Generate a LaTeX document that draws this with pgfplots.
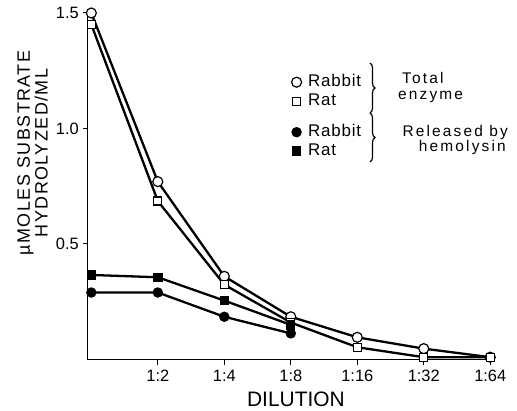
\documentclass[border=0pt]{standalone}
\usepackage{fontspec}
\setmainfont{Liberation Sans}
\newfontfamily\labfont[LetterSpace=8]{Liberation Sans}
\newfontfamily\legfont[LetterSpace=5]{Liberation Sans}
\newfontfamily\grpfont[LetterSpace=14]{Liberation Sans}
\usepackage{pgfplots}
\pgfplotsset{compat=1.18}
\usetikzlibrary{decorations.pathreplacing}

\pgfplotstableread{
x  rabtot rattot
0  1.50   1.45
1  0.77   0.686
2  0.36   0.324
3  0.185  0.16
4  0.096  0.053
5  0.047  0.01
6  0.01   0.01
}\totaldata
\pgfplotstableread{
x  rabrel ratrel
0  0.29   0.366
1  0.29   0.356
2  0.185  0.255
3  0.113  0.15
}\releaseddata

\begin{document}
\begin{tikzpicture}
\useasboundingbox (-88bp,-51.5bp) rectangle (429bp,359.5bp);
\begin{axis}[
  scale only axis, width=405.6bp, height=346.5bp,
  xmin=-0.05, xmax=6.05, ymin=0, ymax=1.5,
  axis lines*=left,
  axis line style={line width=1bp, black},
  tick align=outside, major tick length=5bp,
  tick style={line width=1bp, black},
  xtick={1,2,3,4,5,6}, xticklabels={1:2,1:4,1:8,1:16,1:32,1:64},
  ytick={0.5,1.0,1.5}, yticklabels={0.5,1.0,1.5},
  tick label style={font=\fontsize{16.5}{18}\selectfont},
  xticklabel style={anchor=north, inner sep=0pt, yshift=-5.5bp, font=\fontsize{16.5}{18}\selectfont},
  yticklabel style={anchor=east, inner sep=0pt, xshift=-4bp, font=\fontsize{16.5}{18}\selectfont},
  clip=false,
  xlabel={DILUTION},
  every axis x label/.style={at={(axis description cs:0.5127,0)}, anchor=base, yshift=-47.2bp, font=\fontsize{21}{24}\selectfont},
  ylabel={\textmu MOLES SUBSTRATE\\HYDROLYZED/ML},
  every axis y label/.style={at={(axis description cs:0,0.596)}, xshift=-55.5bp, rotate=90, anchor=center, align=center, font=\labfont\fontsize{18}{15}\selectfont},
  legend cell align=left,
  legend image code/.code={\draw[only marks] plot coordinates {(0bp,0bp)};},
  legend style={draw=none, fill=none, inner sep=0pt, at={(axis description cs:0.5015,0.8283)}, anchor=north west,
    font=\legfont\fontsize{17}{19}\selectfont, row sep=0pt, column sep=5.4bp,
    nodes={inner sep=1bp, text height=13bp, text depth=4bp}},
]
\addplot[black, line width=2.3bp, mark=*, mark size=5bp, mark options={line width=1.2bp, fill=white, draw=black}] table[x=x, y=rabtot] {\totaldata};
\addlegendentry{Rabbit}
\addplot[black, line width=2.3bp, mark=square*, mark size=4bp, mark options={line width=1.2bp, fill=white, draw=black}] table[x=x, y=rattot] {\totaldata};
\addlegendentry{Rat}
\addlegendimage{empty legend}
\addlegendentry[text height=7bp, text depth=3bp]{}
\addplot[black, line width=2.3bp, mark=*, mark size=4.7bp, mark options={line width=1bp, fill=black, draw=black}] table[x=x, y=rabrel] {\releaseddata};
\addlegendentry{Rabbit}
\addplot[black, line width=2.3bp, mark=square*, mark size=4.2bp, mark options={line width=1bp, fill=black, draw=black}] table[x=x, y=ratrel] {\releaseddata};
\addlegendentry{Rat}
\end{axis}
\draw[line width=1.2bp, decorate, decoration={brace, amplitude=5bp}] (282bp,296.5bp) -- (282bp,246.5bp);
\draw[line width=1.2bp, decorate, decoration={brace, amplitude=5bp}] (282bp,246.5bp) -- (282bp,197.5bp);
\node[anchor=base west, inner sep=0pt, font=\grpfont\fontsize{15.5}{16}\selectfont] at (314bp,275.5bp) {Total};
\node[anchor=base west, inner sep=0pt, font=\grpfont\fontsize{15.5}{16}\selectfont] at (310bp,259.5bp) {enzyme};
\node[anchor=base east, inner sep=0pt, font=\grpfont\fontsize{15.5}{16}\selectfont] at (420bp,222.5bp) {Released by};
\node[anchor=base east, inner sep=0pt, font=\grpfont\fontsize{15.5}{16}\selectfont] at (418bp,207.5bp) {hemolysin};
\end{tikzpicture}
\end{document}
